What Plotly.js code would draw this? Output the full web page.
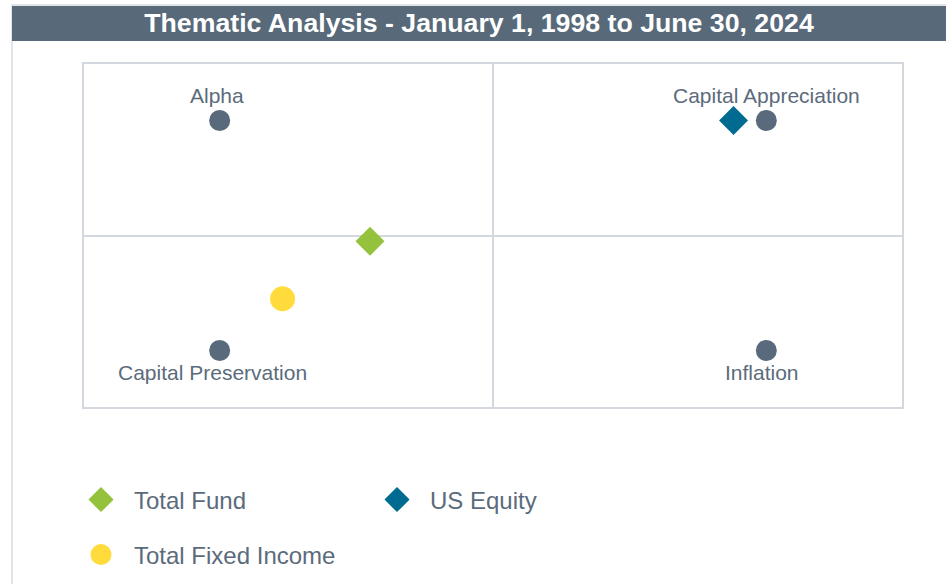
<!DOCTYPE html>
<html>
<head>
<meta charset="utf-8">
<script src="https://cdn.plot.ly/plotly-3.0.1.min.js"></script>
<style>html,body{margin:0;padding:0;background:#fff;}#chart{width:946px;height:584px;}</style>
</head>
<body>
<div id="chart"></div>
<script>
// Quadrant anchors
const anchorNames = ["Alpha", "Capital Appreciation", "Capital Preservation", "Inflation"];
const anchorX = [-1, 1, -1, 1];
const anchorY = [1, 1, -1, -1];

// Portfolios
const seriesNames = ["Total Fund", "US Equity", "Total Fixed Income"];
const seriesX = [-0.45, 0.88, -0.77];
const seriesY = [-0.05, 1.0, -0.55];
const seriesSymbols = ["diamond", "diamond", "circle"];
const seriesColors = ["#95c23d", "#006b91", "#ffdc3c"];
const seriesSizes = [19, 19, 20];
const seriesOutline = [3, 3, 5];
const seriesLegend = ["legend", "legend", "legend2"];

const titleText = "Thematic Analysis - January 1, 1998 to June 30, 2024";

const FONT = "Arial, 'Liberation Sans', sans-serif";
const TXT = "#5b6b7b";
const GRID = "#d3d8df";

const traces = [{
  type: "scatter", mode: "markers",
  x: anchorX, y: anchorY, text: anchorNames,
  marker: {size: 21, color: "#586a7b"},
  showlegend: false, hoverinfo: "text", cliponaxis: false
}];
seriesNames.forEach((n, i) => {
  traces.push({
    type: "scatter", mode: "markers", name: n,
    x: [seriesX[i]], y: [seriesY[i]],
    marker: {symbol: seriesSymbols[i], size: seriesSizes[i], color: seriesColors[i],
             line: {color: seriesColors[i], width: seriesOutline[i]}},
    legend: seriesLegend[i], cliponaxis: false
  });
});

// anchor labels as annotations tied to the anchor data points
const labelAnns = anchorNames.map((n, i) => ({
  x: anchorX[i], y: anchorY[i], xref: "x", yref: "y", text: n, showarrow: false,
  font: {family: FONT, size: 21, color: TXT},
  xanchor: "center", yanchor: "middle",
  yshift: anchorY[i] > 0 ? 25 : -22,
  xshift: [-3, 0, -7, -4][i]
}));

// pixel -> paper helpers (plot area 83..903 x, 63..408 y)
const L = 83, R = 903, T = 63, B = 408;
const px = v => (v - L) / (R - L);
const py = v => (B - v) / (B - T);

const layout = {
  width: 946, height: 584,
  margin: {l: L, r: 946 - R, t: T, b: 584 - B, autoexpand: false},
  paper_bgcolor: "#ffffff", plot_bgcolor: "#ffffff",
  font: {family: FONT, color: TXT},
  title: {text: titleText, font: {family: FONT, size: 26.7, color: "#ffffff", weight: "bold"},
          x: 479 / 946, xanchor: "center", y: 1 - 23 / 584, yanchor: "middle", xref: "container", yref: "container"},
  xaxis: {range: [-1.5, 1.5], showgrid: false, zeroline: true, zerolinecolor: GRID, zerolinewidth: 2,
          showticklabels: false, ticks: "", showline: false, fixedrange: true},
  yaxis: {range: [-1.5, 1.5], showgrid: false, zeroline: true, zerolinecolor: GRID, zerolinewidth: 2,
          showticklabels: false, ticks: "", showline: false, fixedrange: true},
  annotations: labelAnns,
  shapes: [
    {type: "rect", xref: "paper", yref: "paper", x0: px(12), x1: px(960), y0: py(5), y1: py(600),
     line: {color: "#d7dbe1", width: 1.5}, fillcolor: "rgba(0,0,0,0)", layer: "below"},
    {type: "rect", xref: "paper", yref: "paper", x0: px(12), x1: px(960), y0: py(6), y1: py(41),
     line: {width: 0}, fillcolor: "#586a7a", layer: "below"},
    {type: "rect", xref: "paper", yref: "paper", x0: 0, x1: 1, y0: 0, y1: 1,
     line: {color: GRID, width: 2}, fillcolor: "rgba(0,0,0,0)", layer: "below"}
  ],
  legend: {orientation: "h", x: px(68), xanchor: "left", y: py(500), yanchor: "middle",
           font: {family: FONT, size: 24, color: TXT}, itemwidth: 56, entrywidth: 225, entrywidthmode: "pixels",
           bgcolor: "rgba(0,0,0,0)"},
  legend2: {orientation: "h", x: px(68), xanchor: "left", y: py(555), yanchor: "middle",
            font: {family: FONT, size: 24, color: TXT}, itemwidth: 56,
            bgcolor: "rgba(0,0,0,0)"},
  showlegend: true
};

Plotly.newPlot("chart", traces, layout, {displayModeBar: false, staticPlot: true});
</script>
</body>
</html>
